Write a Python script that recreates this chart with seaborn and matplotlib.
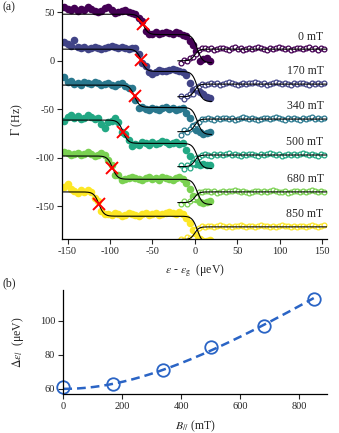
import numpy as np
import matplotlib
matplotlib.use("Agg")
import matplotlib.pyplot as plt
import seaborn as sns

# field values and fitted level splitting
fields = [0, 170, 340, 500, 680, 850]
field_labels = ["0 mT", "170 mT", "340 mT", "500 mT", "680 mT", "850 mT"]
delta_eps = [61, 63, 71, 84.5, 97, 113]

# plateau levels of each (offset) trace, Hz
left_level = [48, 12, -25, -61, -98, -135]
mid_level = [27, -11, -48, -85, -122, -160]
low_filled = [-2, -42, -76, -111, -148, -188]
low_open = [0, -37, -73, -109, -146, -184]
right_level = [12, -24, -60, -97, -135, -171]

# detuning sweep grids (ueV)
x_filled = np.arange(-154, 19, 4)
x_open = np.arange(-16, 155, 3.5)

res_filled = [
    [7, 5, 4, 6, 3, 5, 4, 7, 5, 3, 2, 3, 6, 7, 4, 1, 2, 3, 4, 2, 1, 1, -1, 2, -2, -1, 0, 2, 1, 2, 3, 2, 1, 3, 2, 0, -1, -5, -6, -5, -6, 1, 4, 2],
    [7, 5, 3, 9, 2, 1, 2, 0, 1, 2, 1, 0, 1, 2, 3, 2, 1, 2, 1, 0, 2, 3, 1, -1, 2, -2, -3, -1, 1, 0, 1, 2, 3, 2, 1, 0, -3, -10, -14, -6, 2, 5, 4, 3],
    [8, 3, 4, 1, 2, 0, 3, 2, 1, 3, 2, 0, 1, 2, 0, -1, 1, 2, 0, -1, 3, -2, -4, -1, -2, -3, -1, -2, -3, -1, 0, -2, -1, -3, -2, -1, -5, -10, -15, -12, -5, -2, 1, 2],
    [-1, 3, 5, 2, 4, 1, 2, 5, 3, 1, 2, -4, -8, -2, -1, 3, 1, -3, 2, 1, -3, -1, -2, 1, 0, -2, 1, -1, 0, 2, 1, -1, 0, 1, -1, 0, -6, -12, -16, -10, -3, 2, 3, 4],
    [4, 3, 1, 2, 3, 1, 2, 4, 2, 0, 1, 3, 2, 0, 1, -2, 2, -1, 0, 1, 2, 1, 0, -1, 1, 2, 0, 1, -1, 2, 1, 0, -1, 1, 2, 0, -4, -9, -13, -9, -4, -1, 2, 3],
    [5, 8, 3, 1, -1, 2, 0, 2, 1, -2, 1, -1, 0, 2, 1, 3, 2, 0, 1, 3, 2, 1, 0, 2, 3, 1, 2, 3, 1, 2, 3, 4, 3, 2, 4, 2, -2, -6, -10, -8, -3, 0, 2, 3],
]
res_open = [
    [-2, 1, -1, 2, 0, -1, 1, 2, 1, 0, 1, -1, 0, 1, 1, 0, -1, 1, 2, 0, 1, -1, 0, 1, 0, 1, 2, 1, 0, -1, 1, 0, 1, 2, 1, 0, 1, -1, 0, 1, 1, 0, 1, 2, 0, 1, -1, 1, 0],
    [1, -2, 0, 2, -1, 1, 0, 1, -1, 0, 1, 0, 1, -1, 0, 1, 2, 1, 0, -1, 0, 1, 0, 1, 1, 2, 1, 0, 1, -1, 0, 1, 2, 1, 0, 1, 0, -1, 1, 0, 1, 1, 0, -1, 1, 0, 1, 0, 1],
    [-3, 2, -1, 1, 2, 0, -1, 1, 0, 1, 0, -1, 1, 0, 1, 1, 0, 1, -1, 0, 1, 2, 1, 0, 1, 0, -1, 0, 1, 1, 0, 1, 2, 1, 0, -1, 1, 0, 1, 0, -1, 1, 0, 1, 2, 0, 1, 0, 1],
    [2, -2, 1, -3, 0, 1, -1, 0, 1, 0, -1, 1, 0, 1, 0, 1, 2, 0, 1, 0, -1, 1, 0, 1, 1, 0, -1, 1, 0, 1, 2, 1, 0, 1, -1, 0, 1, 0, 1, 0, 1, 2, 1, 0, 1, 0, -1, 1, 0],
    [-1, 2, -2, 1, 0, -1, 1, 0, 1, 1, 0, 1, -1, 0, 1, 0, 1, 1, 2, 1, 0, 1, 0, -1, 0, 1, 1, 0, 1, 0, 1, 2, 1, 0, 0, 1, -1, 0, 1, 1, 0, 1, 0, 1, 2, 1, 0, 1, 0],
    [1, -1, 2, 0, -2, 1, 0, 1, 0, 1, 1, 0, 1, 2, 1, 0, 1, 0, 1, 1, 2, 1, 0, 1, 1, 0, 1, 2, 1, 1, 0, 1, 0, 1, 2, 1, 1, 0, 1, 0, 1, 1, 0, 1, 2, 1, 0, 1, 2],
]

# fit of splitting vs field
gap0 = 60
g_slope = 0.113

step_w = 6
c_fill, c_open, w_open = 3, 0, 5


def sig(x, c, w):
    return (1 + np.tanh((x - c) / w)) / 2


def fit_filled(x, i):
    y = left_level[i] - (left_level[i] - mid_level[i]) * sig(x, -delta_eps[i], step_w)
    return y - (mid_level[i] - low_filled[i]) * sig(x, c_fill, step_w)


def fit_open(x, i):
    return low_open[i] + (right_level[i] - low_open[i]) * sig(x, c_open, w_open)


sns.set_theme(style="ticks")
plt.rcParams["font.family"] = ["Liberation Serif", "DejaVu Serif"]
plt.rcParams["mathtext.fontset"] = "stix"
plt.rcParams["axes.unicode_minus"] = False
plt.rcParams["xtick.labelsize"] = 7.5
plt.rcParams["ytick.labelsize"] = 7.5

colors = sns.color_palette("viridis", as_cmap=True)(np.linspace(0, 1, 6))

fig = plt.figure(figsize=(3.39, 4.33), dpi=100)
ax = fig.add_axes([0.1829, 0.448, 0.7817, 0.552])

xf_line = np.linspace(-160, 20, 300)
xo_line = np.linspace(-20, 156, 300)
for i in range(6):
    yf = fit_filled(x_filled, i) + np.array(res_filled[i])
    yo = fit_open(x_open, i) + np.array(res_open[i])
    sns.scatterplot(x=x_filled, y=yf, color=colors[i], s=30, linewidth=0, ax=ax, zorder=2)
    ax.scatter(x_open, yo, s=12, facecolors="white", edgecolors=colors[i], linewidths=0.9, zorder=2)
    ax.plot(xf_line, fit_filled(xf_line, i), color="black", lw=0.8, zorder=3)
    ax.plot(xo_line, fit_open(xo_line, i), color="black", lw=0.8, zorder=3)
    ax.plot(-delta_eps[i], (left_level[i] + mid_level[i]) / 2, "x", color="red",
            ms=8, mew=1.4, zorder=4)
    ax.text(152, right_level[i] + 13, field_labels[i], ha="right", va="center", fontsize=8.5)

ax.set_xlim(-156.5, 156)
ax.set_ylim(-183.5, 62.6)
ax.set_xticks([-150, -100, -50, 0, 50, 100, 150])
ax.set_yticks([50, 0, -50, -100, -150])
ax.set_xlabel(r"$\varepsilon$ - $\varepsilon_{\rm g}$  (μeV)", fontsize=8.5)
ax.set_ylabel(r"$\mathit{\Gamma}$ (Hz)", fontsize=8.5)
ax.xaxis.set_label_coords(0.5, -0.10)
ax.yaxis.set_label_coords(-0.14, 0.5)
sns.despine(ax=ax)

# panel b
bx = fig.add_axes([0.1858, 0.0901, 0.7788, 0.2402])
bb = np.linspace(0, 850, 200)
sns.lineplot(x=bb, y=np.sqrt(gap0 ** 2 + (g_slope * bb) ** 2), ax=bx, color="#2a64c5",
             lw=1.8, linestyle=(0, (3.5, 2)))
bx.plot(fields, delta_eps, "o", ms=9, mfc="none", mec="#2a64c5", mew=1.3, clip_on=False)
bx.set_xlim(-1, 895)
bx.set_ylim(57, 118)
bx.set_xticks([0, 200, 400, 600, 800])
bx.set_yticks([60, 80, 100])
bx.set_xlabel(r"$B_{//}$ (mT)", fontsize=8.5)
bx.set_ylabel(r"$\Delta\varepsilon_{l}$  (μeV)", fontsize=8.5)
bx.xaxis.set_label_coords(0.5, -0.24)
bx.yaxis.set_label_coords(-0.14, 0.5)
sns.despine(ax=bx)

for a in (ax, bx):
    a.tick_params(direction="out", length=3.5, width=0.8, pad=2)
    for s in a.spines.values():
        s.set_linewidth(0.9)
        s.set_color("black")

fig.text(0.008, 1 - 7 / 433, "(a)", va="center", fontsize=8.5)
fig.text(0.008, 1 - 283 / 433, "(b)", va="center", fontsize=8.5)

fig.savefig("out.png", dpi=100)
